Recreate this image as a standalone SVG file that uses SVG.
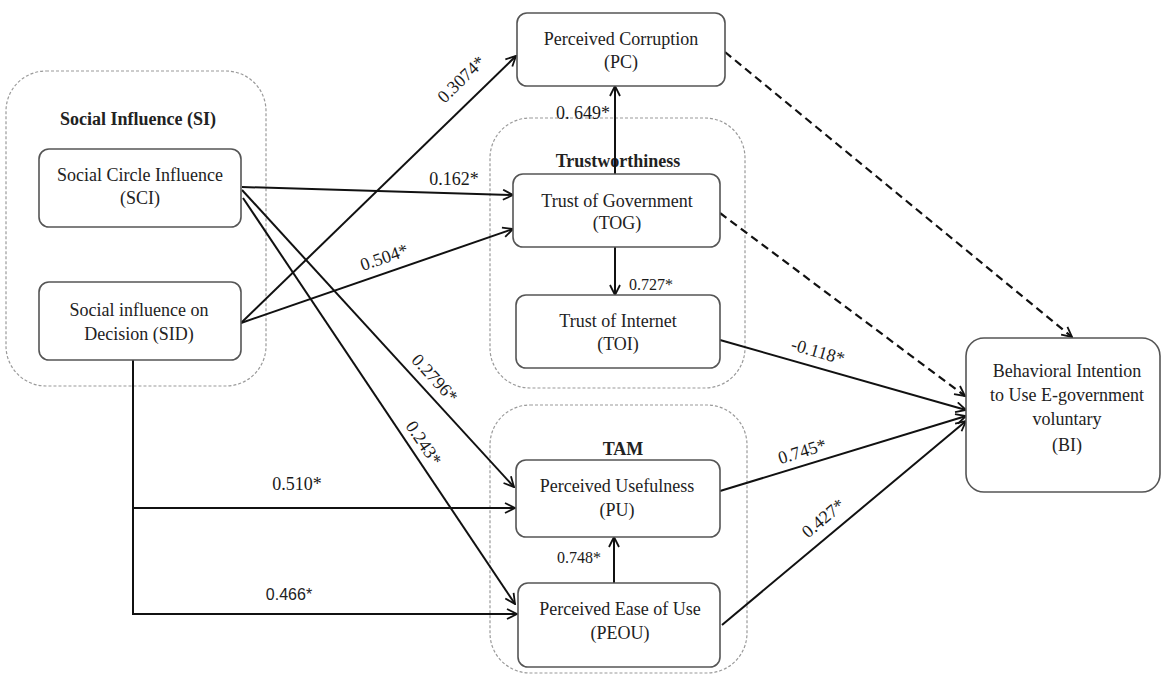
<svg xmlns="http://www.w3.org/2000/svg" width="1162" height="677" viewBox="0 0 1162 677">
<defs>
<style>
.grp{fill:none;stroke:#9a9a9a;stroke-width:1.2;stroke-dasharray:3 2}
.box{fill:#fff;stroke:#555;stroke-width:1.6}
.t{font-family:"Liberation Serif","Times New Roman",serif;font-size:18px;fill:#222;text-anchor:middle}
.title{font-family:"Liberation Serif","Times New Roman",serif;font-size:18px;font-weight:bold;fill:#222;text-anchor:middle}
.lbl{font-family:"Liberation Serif","Times New Roman",serif;font-size:18px;fill:#1a1a1a;text-anchor:middle}
.sm{font-size:16px}
.sans{font-family:"Liberation Sans",Arial,sans-serif;font-size:16px;fill:#222;text-anchor:middle}
.ln{fill:none;stroke:#111;stroke-width:2}
.dash{fill:none;stroke:#111;stroke-width:2.2;stroke-dasharray:8 5}
</style>
<marker id="arr" viewBox="0 0 12 12" refX="11" refY="6" markerWidth="12" markerHeight="12" markerUnits="userSpaceOnUse" orient="auto">
<path d="M1,1 L11,6 L1,11" fill="none" stroke="#111" stroke-width="1.8"/>
</marker>
</defs>
<rect width="1162" height="677" fill="#fff"/>

<g id="group-SI">
<rect class="grp" x="6" y="71" width="260" height="315" rx="40"/>
<text class="title" x="138" y="125">Social Influence (SI)</text>
</g>
<g id="group-Trust">
<rect class="grp" x="490" y="118" width="255" height="270" rx="40"/>
<text class="title" x="618" y="167">Trustworthiness</text>
</g>
<g id="group-TAM">
<rect class="grp" x="490" y="405" width="257" height="268" rx="40"/>
<text class="title" x="623" y="455">TAM</text>
</g>

<g id="connectors">
<path class="ln" d="M241,323 L516,56" marker-end="url(#arr)"/>
<path class="ln" d="M242,187 L513,195" marker-end="url(#arr)"/>
<path class="ln" d="M241,323 L513,229" marker-end="url(#arr)"/>
<path class="ln" d="M242,190 L514,487" marker-end="url(#arr)"/>
<path class="ln" d="M243,198 L515,604" marker-end="url(#arr)"/>
<path class="ln" d="M133,360 V614 H517" marker-end="url(#arr)"/>
<path class="ln" d="M133,508 H515" marker-end="url(#arr)"/>
<path class="ln" d="M615,174 V86" marker-end="url(#arr)"/>
<path class="ln" d="M615,247 V295" marker-end="url(#arr)"/>
<path class="ln" d="M614,583 V537" marker-end="url(#arr)"/>
<path class="ln" d="M720,340 L966,410" marker-end="url(#arr)"/>
<path class="ln" d="M720,491 L966,416" marker-end="url(#arr)"/>
<path class="ln" d="M722,625 L966,421" marker-end="url(#arr)"/>
<path class="dash" d="M725,52 L1072,337" marker-end="url(#arr)"/>
<path class="dash" d="M720,213 L965,396" marker-end="url(#arr)"/>

<text class="lbl" transform="translate(461,79) rotate(-44.2)" dy="0.35em">0.3074*</text>
<text class="lbl" x="454" y="185">0.162*</text>
<text class="lbl" transform="translate(384,257) rotate(-19.1)" dy="0.35em">0.504*</text>
<text class="lbl" transform="translate(435,378) rotate(47.5)" dy="0.35em">0.2796*</text>
<text class="lbl" transform="translate(424,443) rotate(56.2)" dy="0.35em">0.243*</text>
<text class="lbl" x="297" y="490">0.510*</text>
<text class="sans" x="289" y="600">0.466*</text>
<text class="lbl" x="583" y="119">0. 649*</text>
<text class="lbl sm" x="651" y="290">0.727*</text>
<text class="lbl sm" x="579" y="563">0.748*</text>
<text class="lbl" transform="translate(818,351) rotate(16)" dy="0.35em">-0.118*</text>
<text class="lbl" transform="translate(802,451) rotate(-17)" dy="0.35em">0.745*</text>
<text class="lbl" transform="translate(823,518) rotate(-39.9)" dy="0.35em">0.427*</text>
</g>

<g id="node-SCI">
<rect class="box" x="39" y="149" width="202" height="78" rx="10"/>
<text class="t" x="140" y="181">Social Circle Influence</text>
<text class="t" x="140" y="204">(SCI)</text>
</g>
<g id="node-SID">
<rect class="box" x="39" y="282" width="202" height="78" rx="10"/>
<text class="t" x="139" y="316">Social influence on</text>
<text class="t" x="139" y="340">Decision (SID)</text>
</g>
<g id="node-PC">
<rect class="box" x="517" y="13" width="208" height="73" rx="10"/>
<text class="t" x="621" y="45">Perceived Corruption</text>
<text class="t" x="621" y="68">(PC)</text>
</g>
<g id="node-TOG">
<rect class="box" x="513" y="174" width="207" height="73" rx="10"/>
<text class="t" x="617" y="207">Trust of Government</text>
<text class="t" x="617" y="229">(TOG)</text>
</g>
<g id="node-TOI">
<rect class="box" x="516" y="295" width="204" height="73" rx="10"/>
<text class="t" x="618" y="327">Trust of Internet</text>
<text class="t" x="618" y="350">(TOI)</text>
</g>
<g id="node-PU">
<rect class="box" x="516" y="460" width="204" height="77" rx="10"/>
<text class="t" x="617" y="492">Perceived Usefulness</text>
<text class="t" x="617" y="516">(PU)</text>
</g>
<g id="node-PEOU">
<rect class="box" x="518" y="583" width="202" height="84" rx="10"/>
<text class="t" x="620" y="615">Perceived Ease of Use</text>
<text class="t" x="620" y="639">(PEOU)</text>
</g>
<g id="node-BI">
<rect class="box" x="966" y="338" width="194" height="154" rx="18"/>
<text class="t" x="1067" y="377">Behavioral Intention</text>
<text class="t" x="1067" y="401">to Use E-government</text>
<text class="t" x="1067" y="425">voluntary</text>
<text class="t" x="1067" y="451">(BI)</text>
</g>
</svg>
